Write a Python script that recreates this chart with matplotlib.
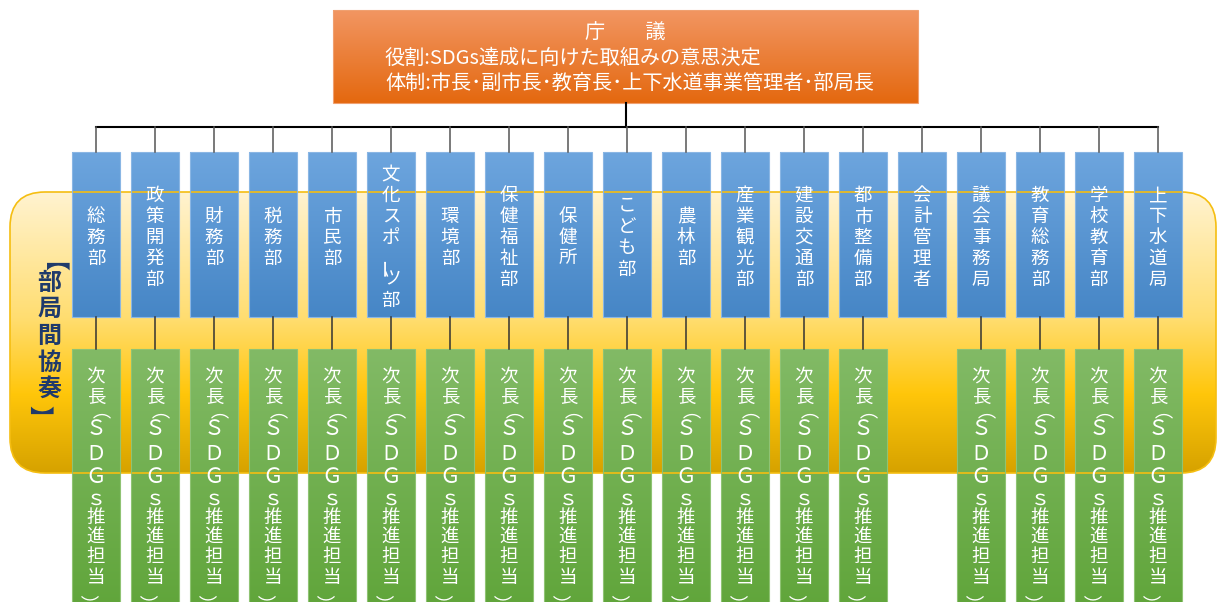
import numpy as np
import matplotlib
matplotlib.use("Agg")
import matplotlib.pyplot as plt
from matplotlib.patches import Rectangle, FancyBboxPatch
from matplotlib.colors import LinearSegmentedColormap
from matplotlib.font_manager import FontProperties

plt.rcParams['font.family'] = ['Noto Sans CJK JP', 'DejaVu Sans']

# --- chart content ---
title = '庁　　議'
role_line = '役割:SDGs達成に向けた取組みの意思決定'
body_line = '体制:市長･副市長･教育長･上下水道事業管理者･部局長'
group_label = '【部局間協奏】'
depts = ['総務部', '政策開発部', '財務部', '税務部', '市民部', '文化スポーツ部',
         '環境部', '保健福祉部', '保健所', 'こども部', '農林部', '産業観光部',
         '建設交通部', '都市整備部', '会計管理者', '議会事務局', '教育総務部',
         '学校教育部', '上下水道局']
has_deputy = [True] * 14 + [False] + [True] * 4
deputy = '次長（ＳＤＧｓ推進担当）'

# layout (pixels)
W, H = 1218, 602
deputy_y = [25.5, 46.5, 60.5, 78.5, 103, 126, 150, 167, 186, 206, 227, 242]  # from box top
label_y = [261, 281, 307.5, 334, 361, 387, 405]
ROT_FIX = (-8, 12)  # turned glyphs land this far off in Agg, pixels

fig = plt.figure(figsize=(W / 100, H / 100), dpi=100)
ax = fig.add_axes([0, 0, 1, 1])
renderer = fig.canvas.get_renderer()


def grad_box(x0, y0, x1, y1, colors, patch=None, stops=None):
    if stops is None:
        cmap = LinearSegmentedColormap.from_list('g', colors)
    else:
        cmap = LinearSegmentedColormap.from_list('g', list(zip(stops, colors)))
    g = np.linspace(0, 1, 256).reshape(-1, 1)
    im = ax.imshow(g, cmap=cmap, extent=(x0, x1, y1, y0), aspect='auto',
                   interpolation='bilinear', zorder=2)
    if patch is None:
        patch = Rectangle((x0, y0), x1 - x0, y1 - y0, fill=False, lw=0)
    ax.add_patch(patch)
    im.set_clip_path(patch)
    return im


def glyph(ch, x, y, size, color, weight='normal'):
    # one character of vertical writing, ink centred on (x, y) px;
    # brackets and the long vowel mark are turned a quarter
    rot = -90 if ch in 'ー（）【】' else 0
    if ch in 'ＳＤＧｓ':
        size = size * 1.12
    fp = FontProperties(family='Noto Sans CJK JP', weight=weight, size=size * 0.72)
    w, h, d = renderer.get_text_width_height_descent(ch, fp, ismath=False)
    _, lh, ld = renderer.get_text_width_height_descent('lp', fp, ismath=False)
    # how far the ink centre sits above the centre of matplotlib's text box
    up = (h / 2 - d) - (max(h, lh) / 2 - max(d, ld))
    if rot:
        px, py = x - up + ROT_FIX[0], y + ROT_FIX[1]
    else:
        px, py = x, y + up
    ax.text(px, py, ch, ha='center', va='center', rotation=rot,
            rotation_mode='anchor', fontproperties=fp, color=color, zorder=6)


# yellow rounded background
r = 35
bx0, by0, bx1, by1 = 10, 192, 1216, 473
grad_box(bx0, by0, bx1, by1, ['#FFF3D0', '#FFDD70', '#FFC60A', '#D6A200'],
         patch=FancyBboxPatch((bx0 + r, by0 + r), bx1 - bx0 - 2 * r, by1 - by0 - 2 * r,
                              boxstyle='round,pad=%d' % r, fc='none', lw=0),
         stops=[0, 0.45, 0.72, 1])
ax.add_patch(FancyBboxPatch((bx0 + r, by0 + r), bx1 - bx0 - 2 * r, by1 - by0 - 2 * r,
                            boxstyle='round,pad=%d' % r, fc='none', ec='#F5BE12',
                            lw=1.2, zorder=3))

for ch, y in zip(group_label, label_y):
    glyph(ch, 49, y, 24, '#1F3A6B', weight='bold')

# top box
grad_box(333, 10, 918, 103, ['#F29662', '#E4680F'])
ax.add_patch(Rectangle((333, 10), 585, 93, fill=False, ec='#F0A070', lw=0.8, zorder=3))
ax.text(625.5, 33, title, ha='center', va='center', color='white', fontsize=14.5, zorder=6)
ax.text(385, 58, role_line, ha='left', va='center', color='white', fontsize=14.5, zorder=6)
ax.text(385, 83, body_line, ha='left', va='center', color='white', fontsize=14.5, zorder=6)

# connectors
n = len(depts)
xs = 96 + 59 * np.arange(n)
ax.plot([625.5, 625.5], [103, 127], color='black', lw=1.5, zorder=4)
ax.plot([xs[0], xs[-1]], [127, 127], color='black', lw=1.5, zorder=4)

bw = 48
for i, name in enumerate(depts):
    x = xs[i]
    ax.plot([x, x], [127, 152], color='#555555', lw=1.1, zorder=4)
    grad_box(x - bw / 2, 152, x + bw / 2, 317, ['#6DA5DE', '#4686C6'])
    ax.add_patch(Rectangle((x - bw / 2, 152), bw, 165, fill=False,
                           ec='#8AB6E4', lw=0.8, zorder=3))
    pitch = 21
    y_first = 236 - (len(name) - 1) * pitch / 2
    for j, ch in enumerate(name):
        glyph(ch, x, y_first + j * pitch, 18.5, 'white')
    if has_deputy[i]:
        ax.plot([x, x], [317, 349], color='#333333', lw=1.1, zorder=4)
        grad_box(x - bw / 2, 349, x + bw / 2, 610, ['#82BA66', '#60A53A'])
        ax.add_patch(Rectangle((x - bw / 2, 349), bw, 261, fill=False,
                               ec='#8FC373', lw=0.8, zorder=3))
        for ch, dy in zip(deputy, deputy_y):
            glyph(ch, x, 349 + dy, 18.5, 'white')

ax.set_xlim(0, W)
ax.set_ylim(H, 0)
ax.axis('off')
fig.savefig('out.png', dpi=100)
